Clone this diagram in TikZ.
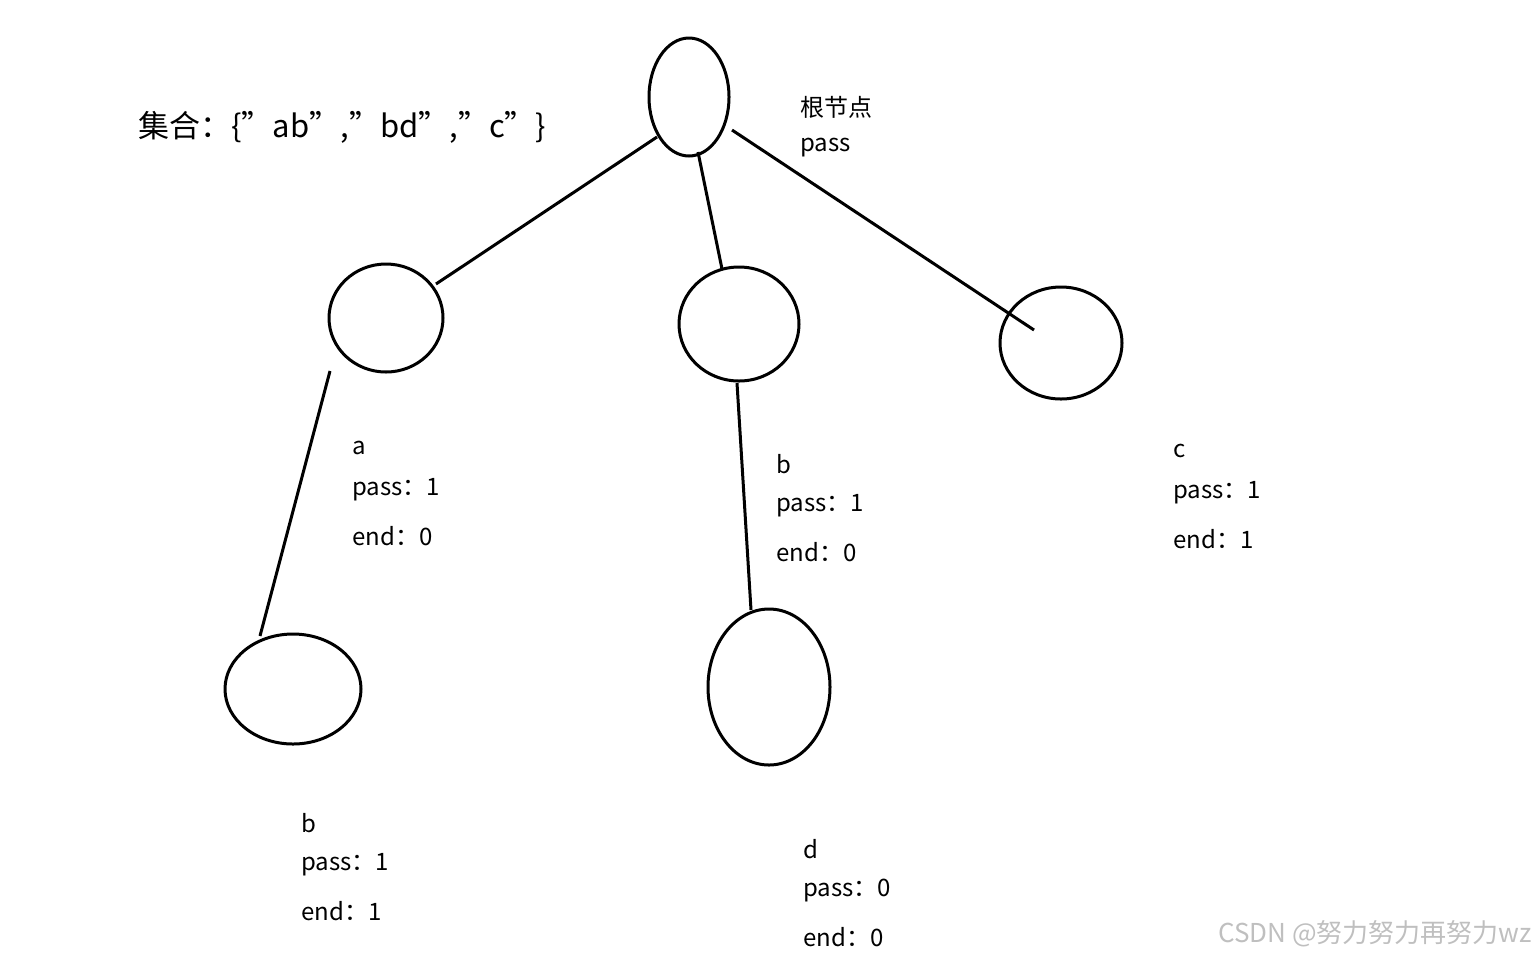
\documentclass[tikz,border=0pt]{standalone}
\usepackage{fontspec}
\setmainfont{Noto Sans CJK SC}
\usetikzlibrary{shapes.geometric}
\begin{document}
\begin{tikzpicture}[x=0.5pt,y=-0.5pt,
  nd/.style={draw,ellipse,line width=1.5pt,inner sep=0pt},
  edge/.style={line width=1.5pt},
  lbl/.style={anchor=west,font=\fontsize{12}{14}\selectfont,align=left,inner sep=0pt}]
\useasboundingbox (0,0) rectangle (1536,960);
\node[nd,minimum width=40pt,minimum height=59pt] (root) at (689,97) {};
\node[nd,minimum width=57pt,minimum height=54pt] (a) at (386,318) {};
\node[nd,minimum width=60pt,minimum height=57pt] (b) at (739,324) {};
\node[nd,minimum width=61pt,minimum height=56pt] (c) at (1061,343) {};
\node[nd,minimum width=68pt,minimum height=55pt] (ab) at (293,689) {};
\node[nd,minimum width=61pt,minimum height=78pt] (bd) at (769,687) {};
\coordinate (r1) at (657,137); \coordinate (a1) at (436,284);
\coordinate (r2) at (698,152); \coordinate (b1) at (722,269);
\coordinate (r3) at (732,130); \coordinate (c1) at (1034,330);
\coordinate (a2) at (330,371); \coordinate (ab1) at (260,636);
\coordinate (b2) at (737,383); \coordinate (bd1) at (751,610);
\draw[edge] (r1) -- (a1);
\draw[edge] (r2) -- (b1);
\draw[edge] (r3) -- (c1);
\draw[edge] (a2) -- (ab1);
\draw[edge] (b2) -- (bd1);
\node[anchor=west,inner sep=0pt,font=\fontsize{15.5}{18}\selectfont] (title) at (138,127) {集合：\{"ab","bd","c"\}};
\node[lbl] (lroot) at (800,107) {根节点};
\node[lbl] (lpass) at (800,148) {pass};
\node[lbl] (la0) at (352,448) {a};
\node[lbl] (la1) at (352,490) {pass：1};
\node[lbl] (la2) at (352,536) {end：0};
\node[lbl] (lb0) at (776,464) {b};
\node[lbl] (lb1) at (776,506) {pass：1};
\node[lbl] (lb2) at (776,552) {end：0};
\node[lbl] (lc0) at (1173,451) {c};
\node[lbl] (lc1) at (1173,493) {pass：1};
\node[lbl] (lc2) at (1173,539) {end：1};
\node[lbl] (lab0) at (301,823) {b};
\node[lbl] (lab1) at (301,865) {pass：1};
\node[lbl] (lab2) at (301,911) {end：1};
\node[lbl] (lbd0) at (803,849) {d};
\node[lbl] (lbd1) at (803,891) {pass：0};
\node[lbl] (lbd2) at (803,937) {end：0};
\node[anchor=east,inner sep=0pt,text=black!25,font=\fontsize{13}{15}\selectfont] (wm) at (1532,934) {CSDN @努力努力再努力wz};
\end{tikzpicture}
\end{document}
